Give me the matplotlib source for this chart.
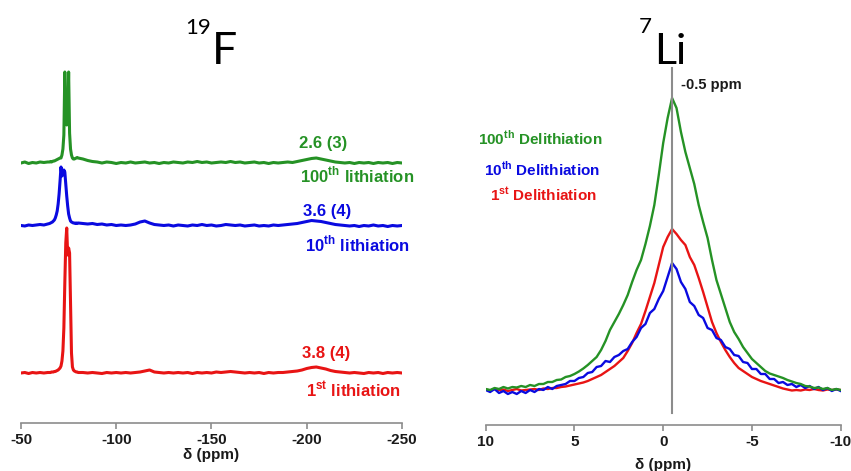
import matplotlib
matplotlib.use("Agg")
import matplotlib.pyplot as plt

# Set params
plt.rcParams.update({
    'font.family': ['Liberation Sans', 'DejaVu Sans'],
    'font.weight': 'bold',
    'axes.unicode_minus': False,
    'mathtext.fontset': 'custom',
    'mathtext.rm': 'Liberation Sans',
    'mathtext.bf': 'Liberation Sans:bold',
})

GREEN = '#259225'
BLUE = '#0a0ae0'
RED = '#e81414'

# ---------------- 19F data (heights above each trace's baseline) ----------------
F_PPM = [-50, -52, -54, -56, -58, -60, -62, -64,
         -65, -65.5, -66, -66.5, -67, -67.5, -68, -68.5, -69, -69.5,
         -70, -70.5, -71, -71.5, -72, -72.5, -73, -73.5, -74, -74.5,
         -75, -75.5, -76, -76.5, -77, -77.5, -78, -78.5, -79, -79.5, -80,
         -82.5, -85, -87.5, -90, -92.5, -95, -97.5, -100, -102.5, -105,
         -107.5, -110, -112.5, -115, -117.5, -120, -122.5, -125, -127.5, -130,
         -132.5, -135, -137.5, -140, -142.5, -145, -147.5, -150, -152.5, -155,
         -157.5, -160, -162.5, -165, -167.5, -170, -172.5, -175, -177.5, -180,
         -182.5, -185, -187.5, -190, -192.5, -195, -197.5, -200, -202.5, -205,
         -207.5, -210, -212.5, -215, -217.5, -220, -222.5, -225, -227.5, -230,
         -232.5, -235, -237.5, -240, -242.5, -245, -247.5, -250]

f_100th = [0, 1, -0.5, 0.5, 0, 1, 0.5, 1,
           1, 1.5, 1, 1.5, 2, 2, 2.5, 3, 3.5, 4,
           4.5, 5, 5, 8, 14, 28, 91, 45, 38, 42,
           91, 30, 14, 8, 5, 4, 4, 4.5, 5, 5.5, 5,
           4, 2.5, 1.5, 1, 0, 1, 0.5, -0.5, 0.5, 0,
           1, 0, 0.5, 1, 0, 0.5, -0.5, 0.5, 0, 1,
           0.5, 0, 1, 0.5, 1.5, 0.5, 1, 0, 0.5, 1,
           0.5, 1.5, 0.5, 1, 0, 0.5, 1, 0, 0.5, -0.5,
           0.5, 0, 0.5, 1, 0.5, 1.5, 2.5, 3.5, 4.5, 5,
           4, 3, 2, 1, 0.5, 0, 0.5, -0.5, 0.5, 0,
           0.5, -0.5, 0.5, 0, 0.5, -0.5, 0.5, 0]

f_10th = [0.5, 0, 1, 0.5, 1, 1.5, 1, 2,
          2.5, 3, 3.5, 4, 5, 6, 8, 11, 15, 22,
          32, 45, 59, 50, 52, 56, 54, 42, 30, 20,
          12, 8, 5, 4, 3.5, 3, 3, 2.5, 3, 2.5, 3,
          2.5, 2, 2.5, 1.5, 2, 1, 1.5, 0.5, 1, 0.5,
          1, 2, 4, 5, 3, 1.5, 1, 0.5, 1, 0,
          1, 0.5, 0, 1, 0.5, 1.5, 0.5, 1, 0, 0.5,
          1.5, 1, 0.5, 1, 0, 0.5, 1, 0, 0.5, 0,
          1, 0.5, 1, 1.5, 2, 2.5, 3.5, 4.5, 5.5, 5,
          4.5, 3.5, 2.5, 1.5, 1, 0.5, 0, 0.5, -0.5, 0.5,
          0, 1, 0, 0.5, -0.5, 0.5, 0, 0.5]

f_1st = [0, 0.5, -0.5, 0.5, 0, 0.5, 0, 0.5,
         0.5, 0.5, 1, 1, 1, 1.5, 1.5, 2, 2.5, 3,
         4, 5, 7, 12, 22, 45, 90, 130, 145, 118,
         125, 120, 70, 20, 6, 3, 2, 1.5, 1, 1, 0.5,
         0.5, 0, 0.5, 0, -0.5, 0.5, 0, 0.5, 0, 0.5,
         0, 0.5, 1, 2, 3, 1, 0.5, 0, 0.5, 0,
         0.5, 0, 0.5, -0.5, 0.5, 0, 0.5, 0, 1, 0.5,
         1, 1.5, 1, 0.5, 0, 0.5, 0, 0.5, -0.5, 0.5,
         0, 0.5, 0.5, 1, 1.5, 2, 3, 4.5, 5.5, 6,
         5, 4, 2.5, 1.5, 1, 0.5, 0, 0.5, 0, -0.5,
         0.5, 0, 0.5, -0.5, 0.5, 0, 0.5, 0]

F_SERIES = [
    # values, colour, stack offset, fraction label, cycle label
    (f_100th, GREEN, 260, '2.6 (3)', r'100$^{\mathbf{th}}$ lithiation'),
    (f_10th, BLUE, 197, '3.6 (4)', r'10$^{\mathbf{th}}$ lithiation'),
    (f_1st, RED, 50, '3.8 (4)', r'1$^{\mathbf{st}}$ lithiation'),
]

# ---------------- 7Li data ----------------
LI_PPM = [10, 9.75, 9.5, 9.25, 9, 8.75, 8.5, 8.25, 8, 7.75,
          7.5, 7.25, 7, 6.75, 6.5, 6.25, 6, 5.75, 5.5, 5.25,
          5, 4.75, 4.5, 4.25, 4, 3.75, 3.5, 3.25, 3, 2.75,
          2.5, 2.25, 2, 1.75, 1.5, 1.25, 1, 0.75, 0.5, 0.25,
          0, -0.25, -0.5, -0.75, -1, -1.25, -1.5, -1.75, -2, -2.25,
          -2.5, -2.75, -3, -3.25, -3.5, -3.75, -4, -4.25, -4.5, -4.75,
          -5, -5.25, -5.5, -5.75, -6, -6.25, -6.5, -6.75, -7, -7.25,
          -7.5, -7.75, -8, -8.25, -8.5, -8.75, -9, -9.25, -9.5, -9.75,
          -10]

li_100th = [1, 0, 2, 1, 3, 1.5, 3, 2.5, 4, 3,
            5, 4, 6, 6, 8, 8, 10, 10.5, 13, 14,
            16, 18.5, 21.5, 25, 29, 33, 40, 49, 60, 68,
            76, 85, 95, 108, 120, 130, 146, 164, 185, 215,
            247, 272, 292, 282, 258, 238, 222, 206, 185, 168,
            152, 130, 110, 96, 82, 68, 58, 51, 43, 37,
            31, 27, 23, 19, 16.5, 15, 13.5, 12, 10, 8.5,
            7, 6, 4, 3.5, 2, 2.5, 1, 2, 0, 1,
            0]

li_10th = [0, -2, 1, -3, -1, -4, -2, -4, -1, -3,
           0, -2, 1, 0, 3, 1, 4, 5, 6, 9,
           9, 12, 13, 17, 18, 23, 24, 29, 28, 33,
           35, 39, 41, 48, 53, 62, 66, 77, 81, 91,
           99, 113, 127, 121, 108, 101, 88, 84, 75, 72,
           62, 60, 52, 50, 43, 41, 35, 34, 28, 27,
           21, 21, 16, 16, 11, 11, 7, 8, 5, 6,
           3, 5, 2, 4, 1, 3, 0, 2, -1, 1,
           -1]

li_1st = [0.5, -0.5, 1, 0, 0.5, -1, 0, 1, -0.5, 0,
          0.5, 1, 0, 1.5, 1, 2, 2, 3, 3.5, 4.5,
          5.5, 6.5, 7.5, 9, 11, 13, 15, 18, 21, 24,
          28, 32, 39, 47, 57, 66, 79, 93, 107, 125,
          143, 153, 161, 156, 150, 145, 133, 125, 112, 98,
          83, 68, 57, 48, 40, 33, 27, 22, 19, 16,
          13, 11, 9, 7.5, 6, 4.5, 3, 1.5, 0.5, -0.5,
          0, -0.5, 0.5, 0, 1, 0, -0.5, 0.5, 0, 0.5,
          0]

LI_SERIES = [
    (li_1st, RED, r'1$^{\mathbf{st}}$ Delithiation'),
    (li_10th, BLUE, r'10$^{\mathbf{th}}$ Delithiation'),
    (li_100th, GREEN, r'100$^{\mathbf{th}}$ Delithiation'),
]
LI_OFFSET = 35
LI_PEAK_PPM = -0.5

# ---------------- figure ----------------
W, H = 851, 471
fig = plt.figure(figsize=(W / 100, H / 100), dpi=100)

ax1 = fig.add_axes([21 / W, (H - 423) / H, 381 / W, 363 / H])
ax2 = fig.add_axes([485.7 / W, (H - 425) / H, 355 / W, 365 / H])

for ax in (ax1, ax2):
    for side in ('left', 'right', 'top'):
        ax.spines[side].set_visible(False)
    ax.spines['bottom'].set_color('#8c8c8c')
    ax.spines['bottom'].set_linewidth(1.2)
    ax.set_yticks([])
    ax.tick_params(axis='x', direction='out', length=4, width=1.2, color='#8c8c8c',
                   labelcolor='#1a1a1a', labelsize=11, pad=3)
    ax.patch.set_alpha(0)

# 19F panel
for vals, col, off, frac, name in F_SERIES:
    ax1.plot(F_PPM, [v + off for v in vals], color=col, lw=2.2)
ax1.set_xlim(-50, -250)
ax1.set_ylim(0, 363)
ax1.set_xticks([-50, -100, -150, -200, -250])
ax1.set_xticklabels(['-50', '-100', '-150', '-200', '-250'], fontweight='bold')
ax1.set_xlabel(r'δ (ppm)', fontsize=11, fontweight='bold', color='#1a1a1a', labelpad=1)

label_pos = [(-208.8, 275, -226.6, 241), (-210.6, 207, -226.6, 172), (-210.1, 65, -224.8, 26)]
for (vals, col, off, frac, name), (fx, fy, nx, ny) in zip(F_SERIES, label_pos):
    ax1.text(fx, fy, frac, color=col, fontsize=12, fontweight='bold', ha='center', va='baseline')
    ax1.text(nx, ny, name, color=col, fontsize=12, fontweight='bold', ha='center', va='baseline')

# 7Li panel
for vals, col, name in LI_SERIES:
    ax2.plot(LI_PPM, [v + LI_OFFSET for v in vals], color=col, lw=1.7)
ax2.set_xlim(10, -10)
ax2.set_ylim(0, 365)
ax2.set_xticks([10, 5, 0, -5, -10])
ax2.set_xticklabels(['10', '5', '0', '-5', '-10'], fontweight='bold')
ax2.set_xlabel(r'δ (ppm)', fontsize=11, fontweight='bold', color='#1a1a1a', labelpad=7)
ax2.axvline(LI_PEAK_PPM, ymin=12 / 365, ymax=357 / 365, color='#8c8c8c', lw=1.5, zorder=5)
ax2.text(-1.0, 336, f'{LI_PEAK_PPM} ppm', fontsize=10.5, fontweight='bold',
         color='#1a1a1a', ha='left', va='baseline')

legend_pos = [(6.73, 223), (6.84, 249), (6.95, 280)]
for (vals, col, name), (lx, ly) in zip(LI_SERIES, legend_pos):
    ax2.text(lx, ly, name, color=col, fontsize=11, fontweight='bold', ha='center', va='baseline')

# nucleus titles
title_font = dict(family=['Lato', 'DejaVu Sans'], fontweight='normal', color='black',
                  ha='left', va='baseline')
fig.text(185 / W, 1 - 34 / H, '19', fontsize=16, **title_font)
fig.text(212 / W, 1 - 64 / H, 'F', fontsize=32, **title_font)
fig.text(639 / W, 1 - 33 / H, '7', fontsize=16, **title_font)
fig.text(654 / W, 1 - 64 / H, 'Li', fontsize=31, **title_font)

fig.savefig('out.png', dpi=100)
